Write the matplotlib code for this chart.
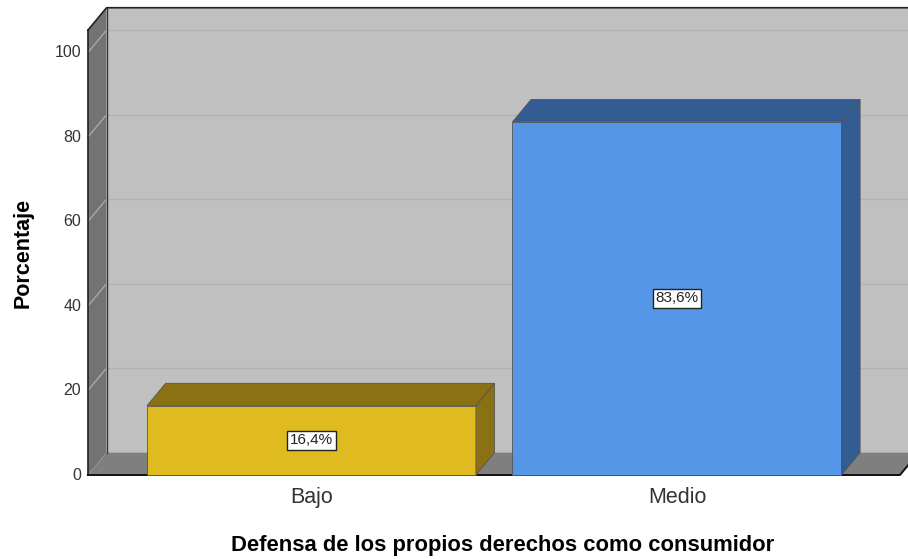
import numpy as np
import matplotlib.pyplot as plt
from matplotlib.patches import Polygon

# Datos
categorias = ['Bajo', 'Medio']
porcentajes = [16.4, 83.6]
etiquetas = ['16,4%', '83,6%']
ticks_y = [0, 20, 40, 60, 80, 100]
colores_frente = ['#E0BB1F', '#5596E6']
colores_lado = ['#8A7214', '#335D92']

# Geometria del grafico 3D (en unidades de datos)
ancho = 0.9
dx, dy = 0.051, 5.3
x0, x1 = -0.6115, 1.61
alto_pared = 105.3

fig = plt.figure(figsize=(9.08, 5.59), dpi=100)
ax = fig.add_axes([0, 0, 1, 1])
ax.set_xlim(-0.852, 1.632)
ax.set_ylim(-19.88, 112.43)
ax.axis('off')

# Pared del fondo
ax.add_patch(Polygon([(x0 + dx, dy), (x1 + dx + 0.1, dy), (x1 + dx + 0.1, alto_pared + dy),
                      (x0 + dx, alto_pared + dy)], closed=True, fc='#c0c0c0', ec='none', zorder=1))
# Pared izquierda
ax.add_patch(Polygon([(x0, 0), (x0 + dx, dy), (x0 + dx, alto_pared + dy), (x0, alto_pared)],
                     closed=True, fc='#737373', ec='none', zorder=1))
# Piso
ax.add_patch(Polygon([(x0, 0), (x1, 0), (x1 + dx, dy), (x0 + dx, dy)],
                     closed=True, fc='#7f7f7f', ec='none', zorder=1))

# Lineas de cuadricula y etiquetas del eje Y
for v in ticks_y:
    if v > 0:
        ax.plot([x0 + dx, x1 + dx + 0.1], [v + dy, v + dy], color='#b2b2b2', lw=1, zorder=2)
        ax.plot([x0, x0 + dx], [v, v + dy], color='#a8a8a8', lw=1, zorder=2)
    ax.text(x0 - 0.018, v, str(v), ha='right', va='center', fontsize=11.5,
            family='Liberation Sans', color='#333333')

# Bordes oscuros
ax.plot([x0, x0], [0, alto_pared], color='#222222', lw=1.2, zorder=3)
ax.plot([x0, x0 + dx, x1 + dx + 0.1], [alto_pared, alto_pared + dy, alto_pared + dy],
        color='#222222', lw=1.2, zorder=3)
ax.plot([x0 + dx, x0 + dx], [dy, alto_pared + dy], color='#333333', lw=1, zorder=3)
ax.plot([x0, x1, x1 + dx], [0, 0, dy], color='#111111', lw=1.4, zorder=3)

# Barras 3D
pos = np.arange(len(categorias))
ax.bar(pos, porcentajes, width=ancho, color=colores_frente, edgecolor='#555555',
       linewidth=0.6, zorder=4)
for i, v in enumerate(porcentajes):
    izq, der = pos[i] - ancho / 2, pos[i] + ancho / 2
    ax.add_patch(Polygon([(izq, v), (der, v), (der + dx, v + dy), (izq + dx, v + dy)],
                         closed=True, fc=colores_lado[i], ec='#555555', lw=0.6, zorder=4))
    ax.add_patch(Polygon([(der, 0), (der + dx, dy), (der + dx, v + dy), (der, v)],
                         closed=True, fc=colores_lado[i], ec='#555555', lw=0.6, zorder=4))
    ax.text(pos[i], v / 2, etiquetas[i], ha='center', va='center', fontsize=11,
            family='Liberation Sans', color='#222222', zorder=5,
            bbox=dict(boxstyle='square,pad=0.18', fc='white', ec='#222222', lw=1.0))
    ax.text(pos[i], -5.4, categorias[i], ha='center', va='center', fontsize=15.5,
            family='Liberation Sans', color='#333333')

ax.text(0.524, -16.8, 'Defensa de los propios derechos como consumidor', ha='center',
        va='center', fontsize=15.8, fontweight='bold', family='Liberation Sans')
ax.text(-0.79, 52.5, 'Porcentaje', ha='center', va='center', rotation=90, fontsize=15.5,
        fontweight='bold', family='Liberation Sans')

fig.savefig('out.png', dpi=100)
